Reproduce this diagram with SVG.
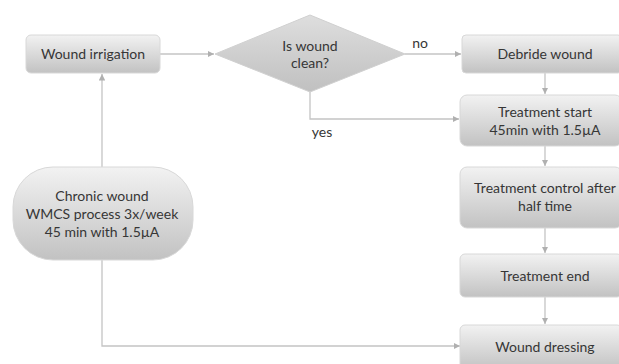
<svg xmlns="http://www.w3.org/2000/svg" width="619" height="364" viewBox="0 0 619 364">
<defs>
<linearGradient id="g" x1="0" y1="0" x2="0" y2="1">
<stop offset="0" stop-color="#f2f2f2"/>
<stop offset="1" stop-color="#c2c2c2"/>
</linearGradient>
<linearGradient id="gd" x1="0" y1="0" x2="0" y2="1">
<stop offset="0" stop-color="#dedede"/>
<stop offset="1" stop-color="#c0c0c0"/>
</linearGradient>
<marker id="a" viewBox="0 0 6 6" refX="6" refY="3" markerWidth="5" markerHeight="5" orient="auto">
<path d="M0,0 L6,3 L0,6 z" fill="#b0b0b0"/>
</marker>
</defs>
<style>
.box{fill:url(#g);stroke:#d8d8d8;stroke-width:1}
.t{font-family:Lato,"Open Sans",sans-serif;font-size:14px;fill:#363636;text-anchor:middle}
.c{fill:none;stroke:#c4c4c4;stroke-width:1.3;marker-end:url(#a)}
</style>
<rect width="619" height="364" fill="#ffffff"/>
<g id="connectors">
<path class="c" d="M160,54 L214,54"/>
<path class="c" d="M405,54 L461,54"/>
<path class="c" d="M310,92 L310,119 L459,119"/>
<path class="c" d="M545,73 L545,94"/>
<path class="c" d="M545,146 L545,166"/>
<path class="c" d="M545,228 L545,253"/>
<path class="c" d="M545,297 L545,324"/>
<path class="c" d="M102,167 L102,74"/>
<path class="c" d="M102,260 L102,346 L460,346"/>
</g>
<g id="wound-irrigation">
<rect class="box" x="26" y="35" width="134" height="38" rx="5"/>
<text class="t" x="93" y="59">Wound irrigation</text>
</g>
<g id="is-wound-clean">
<polygon points="310,15 405,54 310,92 215,54" fill="url(#gd)" stroke="#d0d0d0"/>
<text class="t" x="310" y="51">Is wound</text>
<text class="t" x="310" y="68">clean?</text>
</g>
<g id="debride-wound">
<rect class="box" x="462" y="35" width="160" height="38" rx="4"/>
<text class="t" x="545" y="59">Debride wound</text>
</g>
<g id="treatment-start">
<rect class="box" x="460" y="95" width="162" height="51" rx="7"/>
<text class="t" x="545" y="117">Treatment start</text>
<text class="t" x="545" y="135">45min with 1.5µA</text>
</g>
<g id="treatment-control">
<rect class="box" x="460" y="167" width="162" height="61" rx="7"/>
<text class="t" x="545" y="193">Treatment control after</text>
<text class="t" x="545" y="211">half time</text>
</g>
<g id="treatment-end">
<rect class="box" x="460" y="254" width="162" height="43" rx="5"/>
<text class="t" x="545" y="281">Treatment end</text>
</g>
<g id="wound-dressing">
<rect class="box" x="460" y="325" width="162" height="45" rx="5"/>
<text class="t" x="545" y="352">Wound dressing</text>
</g>
<g id="chronic-wound">
<rect class="box" x="13" y="167" width="180" height="93" rx="40"/>
<text class="t" x="102" y="201">Chronic wound</text>
<text class="t" x="102" y="219">WMCS process 3x/week</text>
<text class="t" x="102" y="237">45 min with 1.5µA</text>
</g>
<g id="labels">
<text class="t" x="420" y="48">no</text>
<text class="t" x="322" y="137">yes</text>
</g>
</svg>
